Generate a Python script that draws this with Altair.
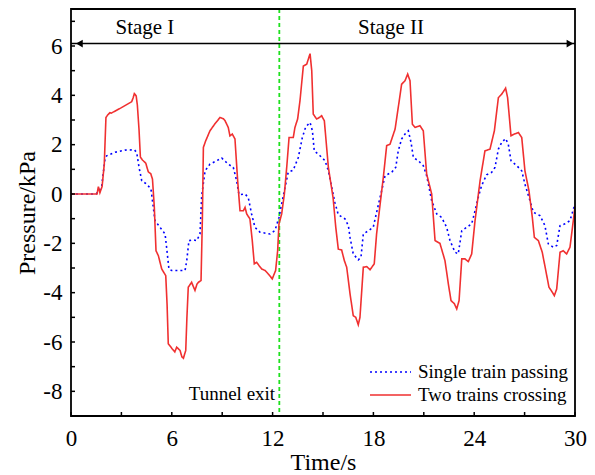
import altair as alt
import pandas as pd

FONT = "Liberation Serif"

SERIES = ["Single train passing", "Two trains crossing"]
COLORS = ["#0000ff", "#f03030"]
DASHES = [[2, 3], [1, 0]]

single_t = [
    0, 1.5, 1.82, 2.02, 2.12, 2.62, 3.21, 3.77, 3.91, 4.05,
    4.21, 4.51, 4.76, 5.00, 5.30, 5.60, 5.69, 5.83, 5.99, 6.79,
    6.89, 7.02, 7.28, 7.48, 7.68, 7.78, 7.98, 8.27, 8.67, 8.97,
    9.36, 9.66, 9.86, 10.0, 10.36, 10.55, 10.75, 10.95, 11.25, 11.85,
    12.14, 12.38, 12.54, 12.74, 12.93, 13.23, 13.53, 13.77, 13.97, 14.23,
    14.37, 14.48, 14.82, 15.12, 15.32, 15.52, 15.71, 15.91, 16.31, 16.51,
    16.61, 16.80, 17.10, 17.26, 17.40, 17.70, 17.99, 18.26, 18.49, 18.69,
    19.09, 19.33, 19.48, 19.68, 19.88, 20.08, 20.24, 20.38, 20.67, 20.97,
    21.17, 21.47, 21.77, 22.06, 22.36, 22.56, 22.86, 23.05, 23.26, 23.55,
    23.85, 24.05, 24.24, 24.44, 24.74, 25.04, 25.24, 25.44, 25.64, 25.87,
    26.03, 26.19, 26.53, 26.83, 27.02, 27.32, 27.52, 27.92, 28.21, 28.41,
    28.71, 28.91, 29.11, 29.40, 29.70, 30.0,
]
single_p = [
    0, 0, 0.27, 1.42, 1.55, 1.69, 1.78, 1.79, 1.69, 1.08,
    0.54, 0.40, 0.20, -1.08, -1.35, -1.62, -2.16, -3.04, -3.10, -3.10,
    -2.70, -1.89, -1.86, -1.89, -1.62, -0.07, 0.94, 1.21, 1.35, 1.46,
    1.21, 1.08, 0.54, -0.03, 0.0, -0.14, -0.81, -1.35, -1.55, -1.62,
    -1.48, -0.95, -0.40, 0.27, 0.88, 0.97, 1.48, 2.29, 2.72, 2.90,
    2.56, 1.75, 1.55, 1.35, 0.94, 0.27, -0.35, -0.84, -1.01, -1.28,
    -1.76, -2.43, -2.67, -2.57, -1.62, -1.49, -1.35, -0.54, 0.13, 0.74,
    0.88, 1.08, 1.75, 2.23, 2.43, 2.56, 2.09, 1.48, 1.35, 1.15,
    0.74, -0.27, -0.81, -0.95, -1.35, -1.89, -2.36, -2.43, -1.49, -1.35,
    -1.21, -0.68, -0.14, 0.34, 0.78, 0.88, 1.08, 1.82, 2.09, 2.25,
    2.02, 1.35, 1.15, 0.94, 0.40, -0.27, -0.74, -0.88, -1.28, -2.02,
    -2.16, -2.09, -1.28, -1.21, -1.08, -0.40,
]

two_t = [
    0, 1.55, 1.63, 1.72, 1.85, 1.98, 2.08, 2.18, 2.32, 2.40,
    3.0, 3.61, 3.70, 3.77, 3.88, 3.95, 4.05, 4.13, 4.25, 4.45,
    4.60, 4.75, 4.85, 4.96, 5.06, 5.20, 5.40, 5.64, 5.72, 5.79,
    6.03, 6.18, 6.29, 6.49, 6.60, 6.69, 6.83, 6.90, 6.98, 7.18,
    7.28, 7.38, 7.50, 7.58, 7.74, 7.82, 7.88, 8.02, 8.27, 8.57,
    8.87, 9.07, 9.17, 9.36, 9.46, 9.60, 9.76, 9.92, 10.06, 10.26,
    10.36, 10.46, 10.65, 10.79, 10.91, 11.05, 11.19, 11.35, 11.55, 11.74,
    11.98, 12.18, 12.30, 12.38, 12.54, 12.70, 12.84, 12.98, 13.23, 13.33,
    13.49, 13.63, 13.83, 14.03, 14.23, 14.33, 14.42, 14.62, 14.78, 14.92,
    15.08, 15.32, 15.60, 15.76, 15.91, 16.11, 16.27, 16.41, 16.61, 16.80,
    16.95, 17.10, 17.20, 17.40, 17.60, 17.80, 18.05, 18.19, 18.39, 18.59,
    18.79, 18.99, 19.29, 19.48, 19.68, 19.88, 20.04, 20.18, 20.32, 20.48,
    20.77, 20.97, 21.17, 21.47, 21.67, 21.96, 22.26, 22.46, 22.62, 22.82,
    22.96, 23.10, 23.26, 23.45, 23.65, 23.85, 24.05, 24.35, 24.64, 24.94,
    25.20, 25.44, 25.64, 25.87, 25.99, 26.19, 26.39, 26.63, 26.83, 27.02,
    27.26, 27.46, 27.58, 27.82, 28.05, 28.26, 28.45, 28.61, 28.77, 28.91,
    29.11, 29.30, 29.50, 29.70, 29.90, 30.0,
]
two_p = [
    0, 0, 0.30, 0.05, 0.30, 1.2, 3.10, 3.20, 3.30, 3.28,
    3.5, 3.74, 3.90, 4.07, 3.98, 3.6, 2.6, 1.50, 1.38, 1.25,
    0.90, 0.82, 0.6, -0.54, -2.30, -2.50, -3.04, -3.31, -4.5, -6.07,
    -6.28, -6.40, -6.21, -6.34, -6.60, -6.66, -6.34, -5.0, -3.78, -3.58,
    -3.75, -3.91, -3.65, -3.58, -3.51, -1.0, 1.89, 2.16, 2.56, 2.85,
    3.10, 3.05, 2.97, 2.70, 2.36, 2.43, 2.23, 0.54, -0.68, -0.68,
    -0.54, -0.81, -1.01, -1.89, -2.83, -2.77, -2.90, -3.04, -3.10, -3.24,
    -3.44, -3.10, -2.30, -1.21, -0.81, 0.0, 1.08, 2.29, 2.29, 2.70,
    3.04, 3.78, 5.19, 5.26, 5.69, 5.0, 3.24, 3.04, 3.10, 3.17,
    2.97, 1.08, -0.15, -1.35, -2.23, -2.27, -2.70, -2.97, -4.05, -4.93,
    -5.00, -5.30, -5.00, -2.97, -2.94, -3.07, -2.83, -1.62, -0.47, 0.67,
    1.96, 2.02, 2.63, 3.51, 4.45, 4.59, 4.86, 4.59, 2.83, 2.70,
    2.77, 2.56, 0.81, 0.0, -1.89, -2.00, -2.70, -3.64, -4.32, -4.45,
    -4.66, -4.32, -2.63, -2.63, -2.74, -2.43, -1.08, 0.54, 1.75, 1.82,
    2.56, 3.91, 4.05, 4.29, 3.9, 2.36, 2.43, 2.49, 2.29, 0.94,
    0.13, -0.95, -1.76, -1.89, -2.36, -3.10, -3.78, -3.94, -4.12, -3.85,
    -2.36, -2.30, -2.43, -2.16, -1.08, -0.5,
]

X_LABELS = [0, 6, 12, 18, 24, 30]
Y_LABELS = [-8, -6, -4, -2, 0, 2, 4, 6]
X_TICKS = [0, 3, 6, 9, 12, 15, 18, 21, 24, 27, 30]
Y_TICKS = [-9, -8, -7, -6, -5, -4, -3, -2, -1, 0, 1, 2, 3, 4, 5, 6, 7]

STAGE_TEXT = ["Stage I", "Stage II"]
STAGE_X = [4.4, 19.05]
STAGE_Y = [6.75, 6.75]
ARROW_Y = 6.1
EXIT_T = 12.4

W, H = 504, 407
HYPHEN_LABEL = "datum.value < 0 ? '-' + abs(datum.value) : '' + datum.value"

# legend layout (pixels inside the plot area)
LEG_X0, LEG_X1, LEG_TX = 299, 340, 347
LEG_ROWS = [363, 386]

df = pd.concat([
    pd.DataFrame({"t": single_t, "p": single_p, "series": SERIES[0], "o": 0}),
    pd.DataFrame({"t": two_t, "p": two_p, "series": SERIES[1], "o": 1}),
], ignore_index=True)

xs = alt.Scale(domain=[0, 30], nice=False, zero=False)
ys = alt.Scale(domain=[-9, 7.5], nice=False, zero=False)

lines = alt.Chart(df).mark_line(strokeWidth=1.6, clip=True).encode(
    x=alt.X("t:Q", scale=xs, axis=alt.Axis(
        values=X_LABELS, title="Time/s", ticks=False, tickSize=0, domain=False, grid=False,
        labelFont=FONT, labelFontSize=23, labelColor="black", labelPadding=11,
        titleFont=FONT, titleFontSize=24, titleFontWeight="normal", titleColor="black",
        titlePadding=0, labelFlush=False, labelExpr=HYPHEN_LABEL)),
    y=alt.Y("p:Q", scale=ys, axis=alt.Axis(
        values=Y_LABELS, title="Pressure/kPa", ticks=False, tickSize=0, domain=False, grid=False,
        labelFont=FONT, labelFontSize=23, labelColor="black", labelPadding=9,
        titleFont=FONT, titleFontSize=24, titleFontWeight="normal", titleColor="black",
        titlePadding=3, labelFlush=False, labelExpr=HYPHEN_LABEL)),
    color=alt.Color("series:N", scale=alt.Scale(domain=SERIES, range=COLORS), legend=None),
    strokeDash=alt.StrokeDash("series:N", scale=alt.Scale(domain=SERIES, range=DASHES), legend=None),
    detail="series:N",
    order="o:Q",
)

legend_layers = []
for name, col, dash, ry in zip(SERIES, COLORS, DASHES, LEG_ROWS):
    base = alt.Chart(pd.DataFrame({"s": [name]}))
    legend_layers.append(base.mark_rule(color=col, strokeDash=dash, strokeWidth=1.6).encode(
        x=alt.value(LEG_X0), x2=alt.value(LEG_X1), y=alt.value(ry)))
    legend_layers.append(base.mark_text(
        align="left", baseline="middle", font=FONT, fontSize=19, color="black").encode(
        x=alt.value(LEG_TX), y=alt.value(ry), text="s:N"))

frame = alt.Chart(pd.DataFrame({"k": [0]})).mark_rect(
    fillOpacity=0, stroke="black", strokeWidth=1.8).encode(
    x=alt.value(0), x2=alt.value(W), y=alt.value(0), y2=alt.value(H))

xtick = alt.Chart(pd.DataFrame({"v": X_TICKS})).mark_rule(color="black", strokeWidth=1.5).encode(
    x=alt.X("v:Q", scale=xs), y=alt.value(H), y2=alt.value(H - 4))
ytick = alt.Chart(pd.DataFrame({"v": Y_TICKS})).mark_rule(color="black", strokeWidth=1.5).encode(
    y=alt.Y("v:Q", scale=ys), x=alt.value(0), x2=alt.value(4))

exit_rule = alt.Chart(pd.DataFrame({"t": [EXIT_T]})).mark_rule(
    color="#1ee01e", strokeDash=[4, 3], strokeWidth=1.8).encode(x=alt.X("t:Q", scale=xs))
exit_text = alt.Chart(pd.DataFrame({"t": [EXIT_T - 0.25], "p": [-8.1], "s": ["Tunnel exit"]})).mark_text(
    align="right", baseline="middle", font=FONT, fontSize=19, color="black").encode(
    x=alt.X("t:Q", scale=xs), y=alt.Y("p:Q", scale=ys), text="s:N")

arrow_line = alt.Chart(pd.DataFrame({"a": [0], "b": [30], "y": [ARROW_Y]})).mark_rule(
    color="black", strokeWidth=1.5).encode(
    x=alt.X("a:Q", scale=xs), x2="b:Q", y=alt.Y("y:Q", scale=ys))
arrow_l = alt.Chart(pd.DataFrame({"t": [0.5], "y": [ARROW_Y]})).mark_point(
    shape="triangle-left", filled=True, size=60, color="black", opacity=1).encode(
    x=alt.X("t:Q", scale=xs), y=alt.Y("y:Q", scale=ys))
arrow_r = alt.Chart(pd.DataFrame({"t": [29.7], "y": [ARROW_Y]})).mark_point(
    shape="triangle-right", filled=True, size=60, color="black", opacity=1).encode(
    x=alt.X("t:Q", scale=xs), y=alt.Y("y:Q", scale=ys))
stage_text = alt.Chart(pd.DataFrame({"t": STAGE_X, "y": STAGE_Y, "s": STAGE_TEXT})).mark_text(
    align="center", baseline="middle", font=FONT, fontSize=21, color="black").encode(
    x=alt.X("t:Q", scale=xs), y=alt.Y("y:Q", scale=ys), text="s:N")

chart = alt.layer(
    exit_rule, lines, xtick, ytick, exit_text, arrow_line, arrow_l, arrow_r, stage_text,
    *legend_layers, frame
).properties(
    width=W, height=H,
    autosize=alt.AutoSizeParams(type="none"),
    padding={"left": 63, "top": 1, "right": 12, "bottom": 62},
).configure(background="white").configure_view(stroke=None)

chart.save("out.html", embed_options={"renderer": "svg", "actions": False})
